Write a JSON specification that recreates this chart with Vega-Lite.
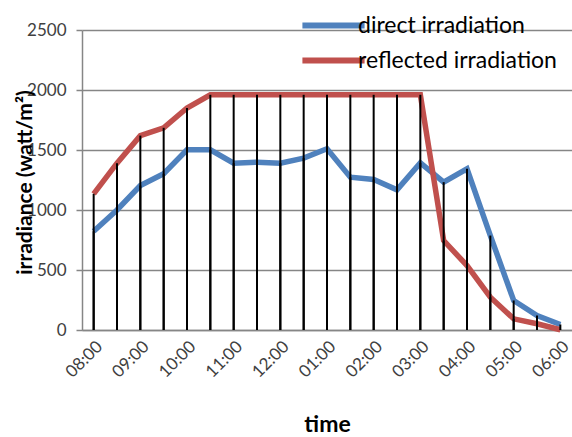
{
  "$schema": "https://vega.github.io/schema/vega-lite/v6.json",
  "width": 490,
  "height": 300,
  "autosize": "none",
  "padding": {"left": 82, "top": 30, "right": 0, "bottom": 107},
  "background": "white",
  "config": {"view": {"stroke": null}, "font": "Lato"},
  "data": {
    "values": [
      {"time": "08:00", "direct": 823, "reflected": 1135},
      {"time": "08:30", "direct": 1000, "reflected": 1390},
      {"time": "09:00", "direct": 1204, "reflected": 1620},
      {"time": "09:30", "direct": 1302, "reflected": 1685},
      {"time": "10:00", "direct": 1502, "reflected": 1850},
      {"time": "10:30", "direct": 1502, "reflected": 1960},
      {"time": "11:00", "direct": 1390, "reflected": 1960},
      {"time": "11:30", "direct": 1398, "reflected": 1960},
      {"time": "12:00", "direct": 1390, "reflected": 1960},
      {"time": "12:30", "direct": 1432, "reflected": 1960},
      {"time": "01:00", "direct": 1510, "reflected": 1960},
      {"time": "01:30", "direct": 1273, "reflected": 1960},
      {"time": "02:00", "direct": 1254, "reflected": 1960},
      {"time": "02:30", "direct": 1168, "reflected": 1960},
      {"time": "03:00", "direct": 1393, "reflected": 1960},
      {"time": "03:30", "direct": 1232, "reflected": 745},
      {"time": "04:00", "direct": 1343, "reflected": 537},
      {"time": "04:30", "direct": 787, "reflected": 273},
      {"time": "05:00", "direct": 246, "reflected": 93},
      {"time": "05:30", "direct": 121, "reflected": 52},
      {"time": "06:00", "direct": 46, "reflected": 2}
    ]
  },
  "encoding": {
    "x": {
      "field": "time",
      "type": "ordinal",
      "sort": null,
      "scale": {"type": "point", "padding": 0.5},
      "axis": {
        "title": "time",
        "titleFontSize": 23,
        "titleFontWeight": "bold",
        "titleColor": "black",
        "titleY": 101,
        "titleBaseline": "alphabetic",
        "labelAngle": -45,
        "labelFontSize": 17,
        "labelColor": "#404040",
        "labelPadding": 8,
        "values": ["08:00", "09:00", "10:00", "11:00", "12:00", "01:00", "02:00", "03:00", "04:00", "05:00", "06:00"],
        "ticks": false,
        "grid": false,
        "domainColor": "#868686",
        "domainWidth": 1.5
      }
    }
  },
  "layer": [
    {
      "mark": {"type": "line", "strokeWidth": 5.5},
      "encoding": {
        "y": {
          "field": "direct",
          "type": "quantitative",
          "scale": {"domain": [0, 2500], "nice": false, "zero": true},
          "axis": {
            "title": "irradiance (watt/m²)",
            "titleFontSize": 21,
            "titleFontWeight": "bold",
            "titleColor": "black",
            "titleX": -51,
            "titleY": 152,
            "titleBaseline": "alphabetic",
            "values": [0, 500, 1000, 1500, 2000, 2500],
            "format": "d",
            "labelFontSize": 17,
            "labelColor": "#404040",
            "labelPadding": 10,
            "tickSize": 6,
            "tickColor": "#868686",
            "tickWidth": 1.5,
            "domainColor": "#868686",
            "domainWidth": 1.5,
            "grid": true,
            "gridColor": "#868686",
            "gridWidth": 1.5
          }
        },
        "color": {
          "datum": "direct irradiation",
          "scale": {"domain": ["direct irradiation", "reflected irradiation"], "range": ["#4F81BD", "#C0504D"]},
          "legend": {
            "title": null,
            "orient": "none",
            "legendX": 235,
            "legendY": -21,
            "labelFontSize": 23,
            "labelColor": "black",
            "labelLimit": 0,
            "labelOffset": 8,
            "symbolType": "M-2.35,0H2.35",
            "symbolSize": 700,
            "symbolStrokeWidth": 6,
            "rowPadding": 6
          }
        }
      }
    },
    {
      "mark": {"type": "line", "strokeWidth": 5.5},
      "encoding": {
        "y": {"field": "reflected", "type": "quantitative"},
        "color": {"datum": "reflected irradiation"}
      }
    },
    {
      "mark": {"type": "rule", "color": "black", "strokeWidth": 2},
      "encoding": {
        "y": {"field": "direct", "type": "quantitative"},
        "y2": {"datum": 0}
      }
    },
    {
      "mark": {"type": "rule", "color": "black", "strokeWidth": 2},
      "encoding": {
        "y": {"field": "reflected", "type": "quantitative"},
        "y2": {"datum": 0}
      }
    }
  ]
}
